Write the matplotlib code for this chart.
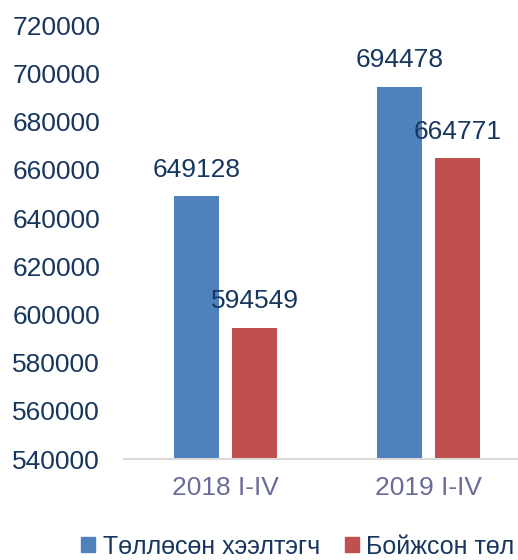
import numpy as np
import matplotlib
matplotlib.use("Agg")
from matplotlib import pyplot as plt
from matplotlib.patches import Patch

categories = ["2018 I-IV", "2019 I-IV"]
series_names = ["Төллөсөн хээлтэгч", "Бойжсон төл"]
pregnant = [649128, 694478]
weaned = [594549, 664771]
y_ticks = list(range(540000, 720001, 20000))

navy = "#17375E"
blue = "#4F81BD"
red = "#C0504D"

plt.rcParams['font.family'] = ['Liberation Sans', 'DejaVu Sans']

fig = plt.figure(figsize=(5.18, 5.60), dpi=100)
ax = fig.add_axes([0.239, 0.180, 0.761, 0.775])

x = np.arange(len(categories))
w = 0.22
off = 0.143
b1 = ax.bar(x - off, pregnant, w, color=blue)
b2 = ax.bar(x + off, weaned, w, color=red)

for bars, vals in ((b1, pregnant), (b2, weaned)):
    for r, v in zip(bars, vals):
        ax.annotate(str(v), (r.get_x() + r.get_width() / 2, v),
                    xytext=(0, 19), textcoords="offset points",
                    ha="center", va="center", fontsize=19, color=navy)

ax.set_ylim(540000, 720000)
ax.set_xlim(-0.5, 1.44)
ax.set_yticks(y_ticks)
ax.set_yticklabels([str(t) for t in y_ticks], fontsize=19, color=navy)
ax.set_xticks(x)
ax.set_xticklabels(categories, fontsize=19, color="#6B6B9B")
ax.tick_params(axis="both", length=0)
ax.tick_params(axis="y", pad=17)
ax.tick_params(axis="x", pad=12)
for s in ("top", "right", "left"):
    ax.spines[s].set_visible(False)
ax.spines["bottom"].set_color("#D9D9D9")
ax.spines["bottom"].set_linewidth(1.5)

handles = [Patch(color=blue), Patch(color=red)]
fig.legend(handles, series_names, loc="center", bbox_to_anchor=(0.575, 0.024),
           ncol=2, frameon=False, fontsize=18, labelcolor=navy,
           handlelength=0.55, handleheight=0.55, handletextpad=0.3,
           columnspacing=1.0)

fig.savefig("out.png", dpi=100)
